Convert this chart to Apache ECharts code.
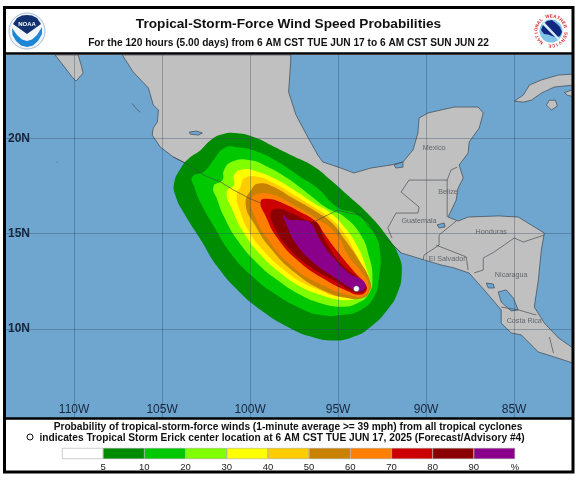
<!DOCTYPE html>
<html>
<head>
<meta charset="utf-8">
<title>Tropical-Storm-Force Wind Speed Probabilities</title>
<script src="https://cdn.jsdelivr.net/npm/echarts@6/dist/echarts.min.js"></script>
<style>
html,body{margin:0;padding:0;background:#fff}
#chart{width:576px;height:480px}
</style>
</head>
<body>
<div id="chart"></div>
<script>
/* all geography in [lon, lat], west negative */
var lonTicks = [-110, -105, -100, -95, -90, -85];
var latTicks = [10, 15, 20];

/* wind probability contours */
var contour5 = [[-104.32,17.64],[-103.94,18.43],[-103.47,18.95],[-102.80,19.39],[-102.23,19.91],[-101.57,20.21],[-100.72,20.26],[-99.77,20.05],[-98.64,19.56],[-97.50,19.04],[-96.36,18.51],[-95.42,17.81],[-94.47,17.03],[-93.33,16.07],[-92.20,14.84],[-91.53,13.79],[-91.38,12.92],[-91.63,11.87],[-92.20,11.00],[-93.14,10.12],[-94.09,9.60],[-95.23,9.39],[-96.55,9.60],[-97.88,10.12],[-99.39,11.00],[-100.72,12.05],[-101.86,13.27],[-102.80,14.67],[-103.75,16.07],[-104.22,16.94]];
var contour10 = [[-103.28,17.99],[-102.61,18.25],[-102.14,18.78],[-101.48,19.48],[-100.72,19.53],[-99.58,19.30],[-98.45,18.78],[-97.31,18.08],[-96.17,17.38],[-95.04,16.38],[-93.90,15.98],[-92.95,15.02],[-92.61,13.97],[-92.67,12.74],[-92.95,11.70],[-93.71,11.00],[-94.85,10.73],[-95.98,10.73],[-97.12,11.08],[-98.64,11.87],[-99.96,12.83],[-101.10,13.97],[-102.05,15.37],[-102.80,16.59],[-103.18,17.47]];
var contour20 = [[-102.08,17.47],[-101.57,17.81],[-101.48,18.34],[-101.00,18.78],[-100.06,18.86],[-99.02,18.51],[-97.88,17.90],[-96.74,17.12],[-95.61,16.33],[-94.66,15.89],[-93.71,14.93],[-93.24,13.79],[-93.05,12.74],[-93.24,11.87],[-93.90,11.35],[-94.85,11.17],[-95.98,11.35],[-97.12,11.78],[-98.45,12.57],[-99.58,13.44],[-100.72,14.67],[-101.48,15.89],[-101.86,16.77]];
var contour30 = [[-101.33,17.20],[-100.91,17.55],[-100.91,18.08],[-100.44,18.37],[-99.58,18.25],[-98.64,17.90],[-97.50,17.29],[-96.36,16.59],[-95.42,16.07],[-94.66,15.37],[-93.90,14.32],[-93.43,13.27],[-93.24,12.48],[-93.43,11.87],[-93.90,11.61],[-94.85,11.52],[-95.98,11.78],[-97.12,12.22],[-98.26,12.92],[-99.39,13.88],[-100.34,15.02],[-101.00,16.24]];
var contour40 = [[-100.76,17.03],[-100.53,17.47],[-100.34,17.90],[-99.58,17.99],[-98.64,17.64],[-97.50,17.03],[-96.36,16.38],[-95.42,15.80],[-94.66,15.02],[-94.00,13.97],[-93.52,13.09],[-93.30,12.40],[-93.52,11.91],[-94.09,11.73],[-95.04,11.70],[-95.98,12.01],[-97.12,12.48],[-98.07,13.09],[-99.20,14.06],[-100.06,15.10],[-100.53,16.07]];
var contour50 = [[-100.25,16.53],[-99.87,17.40],[-99.49,17.63],[-98.74,17.49],[-97.60,16.88],[-96.28,16.18],[-95.34,15.56],[-94.68,14.77],[-93.83,13.63],[-93.17,12.49],[-93.26,11.88],[-93.64,11.61],[-94.40,11.61],[-95.72,11.96],[-97.42,12.93],[-98.92,14.33],[-99.68,15.39]];
var contour60 = [[-99.96,16.70],[-99.64,17.05],[-98.74,17.05],[-97.60,16.53],[-96.28,15.82],[-95.15,15.04],[-94.40,13.81],[-93.64,12.93],[-93.26,12.23],[-93.55,11.74],[-94.21,11.74],[-95.72,12.23],[-97.60,13.28],[-99.11,14.86],[-99.77,16.00]];
var contour70 = [[-99.40,16.70],[-98.92,16.82],[-98.17,16.61],[-97.23,16.18],[-96.28,15.65],[-95.81,15.04],[-94.96,13.98],[-94.02,12.93],[-93.42,12.32],[-93.42,11.96],[-93.83,11.79],[-94.40,11.96],[-95.72,12.58],[-97.23,13.54],[-98.45,14.77],[-99.11,15.91]];
var contour80 = [[-98.83,16.09],[-98.45,16.30],[-97.70,16.09],[-96.66,15.65],[-96.19,15.56],[-95.72,14.60],[-94.77,13.37],[-93.74,12.58],[-93.45,12.23],[-93.55,11.96],[-94.02,11.91],[-95.15,12.49],[-96.75,13.37],[-97.98,14.42],[-98.64,15.39]];
var contour90 = [[-98.11,16.00],[-97.79,15.74],[-97.23,15.70],[-96.57,15.56],[-96.09,14.77],[-95.34,13.81],[-94.40,12.93],[-93.55,12.49],[-93.49,12.14],[-93.74,11.96],[-94.11,12.05],[-95.15,12.67],[-96.47,13.54],[-97.42,14.51],[-97.89,15.39]];
var stormCenter = [-93.96, 12.11];

/* land */
var mainland = [[-107.26,24.37],[-106.64,23.48],[-105.78,22.64],[-105.50,21.75],[-105.21,21.48],[-105.27,20.86],[-105.50,20.54],[-105.56,20.17],[-105.10,19.54],[-104.36,19.02],[-103.68,18.70],[-102.65,18.08],[-101.68,17.71],[-100.94,17.29],[-99.97,16.82],[-99.40,16.61],[-97.98,16.19],[-97.01,15.87],[-96.38,15.61],[-95.70,15.93],[-95.01,16.24],[-94.39,16.08],[-93.70,15.98],[-93.25,15.35],[-92.17,14.67],[-91.42,13.99],[-90.11,13.62],[-89.15,13.36],[-88.40,13.20],[-87.55,12.93],[-86.70,12.05],[-85.73,11.00],[-85.73,10.31],[-85.16,9.79],[-84.59,9.69],[-83.62,8.79],[-82.71,8.53],[-81.65,8.21],[-81.65,9.00],[-82.48,9.53],[-83.28,10.31],[-83.85,11.15],[-83.62,12.57],[-83.45,14.14],[-83.28,15.03],[-84.02,15.45],[-84.76,15.87],[-85.90,15.93],[-87.61,15.87],[-88.18,15.66],[-88.75,15.87],[-88.29,16.76],[-88.18,17.39],[-87.89,17.92],[-88.12,18.60],[-87.61,19.23],[-87.55,19.81],[-86.98,20.54],[-86.75,21.33],[-87.04,21.64],[-88.40,21.64],[-89.89,21.33],[-90.40,21.06],[-90.46,20.28],[-90.74,19.39],[-91.31,18.76],[-92.00,18.60],[-93.13,18.44],[-94.10,18.18],[-94.84,18.44],[-95.87,18.76],[-96.15,19.12],[-96.72,20.06],[-97.24,20.96],[-97.41,21.27],[-97.81,22.43],[-97.69,24.05],[-97.69,24.37]];
var baja = [[-111.08,24.37],[-110.63,23.84],[-110.11,23.21],[-109.89,23.00],[-109.49,23.42],[-109.60,23.84],[-109.77,24.37]];
var cuba = [[-81.65,23.37],[-82.48,23.32],[-83.45,23.06],[-84.13,22.79],[-84.47,22.27],[-84.99,21.95],[-84.47,21.90],[-84.02,22.00],[-83.45,22.37],[-82.71,22.69],[-81.65,22.79]];
var cubaEast = [[-82.14,22.40],[-81.65,22.55],[-81.65,22.20],[-81.95,22.25]];
var isleOfYouth = [[-83.16,21.75],[-82.99,22.00],[-82.65,22.00],[-82.54,21.69],[-82.88,21.48]];

/* lakes */
var lakeChapala = [[-103.45,20.33],[-103.05,20.38],[-102.71,20.28],[-102.94,20.17],[-103.40,20.22]];
var lakeNicaragua = [[-85.90,11.94],[-85.44,12.05],[-85.04,11.62],[-84.76,11.00],[-85.16,10.94],[-85.73,11.41]];
var lakeManagua = [[-86.58,12.41],[-86.18,12.36],[-86.12,12.15],[-86.46,12.15]];
var lakeIzabal = [[-89.37,15.46],[-88.97,15.56],[-88.92,15.35],[-89.26,15.30]];
var lagunaTerminos = [[-91.82,18.60],[-91.31,18.76],[-91.31,18.49],[-91.71,18.44]];

/* borders and small islands */
var borders = [
	[[-91.94,14.77],[-92.17,15.30],[-91.71,16.08],[-90.46,16.08],[-90.40,16.40],[-91.42,17.18],[-90.97,17.81],[-88.80,17.81],[-88.80,15.87]],
	[[-88.80,17.81],[-88.58,18.34],[-88.23,18.49]],
	[[-88.29,15.66],[-89.26,14.93],[-89.26,14.40],[-90.11,13.88],[-90.17,13.62]],
	[[-89.43,14.40],[-87.72,13.78],[-87.61,13.09]],
	[[-87.27,12.94],[-86.75,13.09],[-86.75,13.72],[-86.13,14.04],[-84.99,14.77],[-84.47,14.56],[-83.28,14.93]],
	[[-85.73,11.15],[-84.76,11.00],[-83.73,10.73]],
	[[-82.99,9.58],[-82.76,8.74]],
	[[-106.70,21.83],[-106.53,21.62],[-106.24,21.36]],
	[[-110.99,18.78],[-110.93,18.72]]
];

var countryNames = ['Mexico', 'Belize', 'Guatemala', 'Honduras', 'El Salvador', 'Nicaragua', 'Costa Rica'];
var countryLons = [-89.54, -88.75, -90.40, -86.30, -88.80, -85.16, -84.42];
var countryLats = [19.49, 17.18, 15.66, 15.09, 13.67, 12.83, 10.42];

/* color bar */
var legendColors = ['#ffffff', '#008c00', '#00c800', '#80ff00', '#ffff00', '#ffcc00', '#c98200', '#ff8000', '#cc0000', '#8b0000', '#8b008b'];
var legendLabels = ['5', '10', '20', '30', '40', '50', '60', '70', '80', '90', '%'];

var fontFamily = '"Liberation Sans", Arial, sans-serif';
var coastColor = '#3c4650';

// polygon in map coordinates, drawn once for the whole point list
function polySeries(points, fill, stroke, z, smooth) {
	return {
		type: 'custom',
		xAxisIndex: 0,
		yAxisIndex: 0,
		coordinateSystem: 'cartesian2d',
		clip: true,
		silent: true,
		z: z,
		data: [points[0]],
		renderItem: function(params, api) {
			var pts = [];
			for (var i = 0; i < points.length; i++) {
				pts.push(api.coord(points[i]));
			}
			return {
				type: 'polygon',
				shape: { points: pts, smooth: smooth || 0 },
				style: { fill: fill, stroke: stroke || null, lineWidth: stroke ? 0.7 : 0 }
			};
		}
	};
}

function lineSeries(points, color, width, z) {
	return {
		type: 'line',
		xAxisIndex: 0,
		yAxisIndex: 0,
		data: points,
		symbol: 'none',
		silent: true,
		z: z,
		lineStyle: { color: color, width: width }
	};
}

var series = [];
// land under everything
series.push(polySeries(mainland, '#c0c0c0', coastColor, 2));
series.push(polySeries(baja, '#c0c0c0', coastColor, 2));
series.push(polySeries(cuba, '#c0c0c0', coastColor, 2));
series.push(polySeries(cubaEast, '#c0c0c0', coastColor, 2));
series.push(polySeries(isleOfYouth, '#c0c0c0', coastColor, 2));
var lakes = [lakeChapala, lakeNicaragua, lakeManagua, lakeIzabal, lagunaTerminos];
for (var l = 0; l < lakes.length; l++) {
	series.push(polySeries(lakes[l], '#6fa6cf', coastColor, 3));
}
for (var b = 0; b < borders.length; b++) {
	series.push(lineSeries(borders[b], '#4a4f55', 0.7, 4));
}

// contours, outer first
var contours = [contour5, contour10, contour20, contour30, contour40, contour50, contour60, contour70, contour80, contour90];
for (var c = 0; c < contours.length; c++) {
	series.push(polySeries(contours[c], legendColors[c + 1], null, 5 + c * 0.1, 0.5));
}

// coast shows through the shading
series.push(lineSeries(mainland.slice(9, 16), coastColor, 0.6, 7));
series.push(lineSeries(mainland.slice(18, 26), coastColor, 0.6, 7));

var countryData = [];
for (var n = 0; n < countryNames.length; n++) {
	countryData.push({ value: [countryLons[n], countryLats[n]], name: countryNames[n] });
}
series.push({
	type: 'scatter',
	xAxisIndex: 0,
	yAxisIndex: 0,
	data: countryData,
	symbolSize: 0,
	silent: true,
	z: 8,
	label: {
		show: true,
		position: 'inside',
		formatter: '{b}',
		fontFamily: fontFamily,
		fontSize: 7.2,
		color: '#4a4f55'
	}
});

series.push({
	type: 'scatter',
	xAxisIndex: 0,
	yAxisIndex: 0,
	data: [stormCenter],
	symbolSize: 6,
	silent: true,
	z: 9,
	itemStyle: { color: '#ffffff', borderColor: '#222222', borderWidth: 0.5, opacity: 1 }
});

// color bar, one stacked cell per band
for (var k = 0; k < legendColors.length; k++) {
	series.push({
		type: 'bar',
		xAxisIndex: 1,
		yAxisIndex: 1,
		stack: 'bar',
		data: [1],
		barWidth: '100%',
		silent: true,
		itemStyle: { color: legendColors[k], borderColor: '#9a9a9a', borderWidth: 0.5 }
	});
}

function titleLine(text, top, size, x) {
	return {
		text: text,
		left: x,
		top: top,
		padding: 0,
		textAlign: 'center',
		textStyle: { fontFamily: fontFamily, fontSize: size, fontWeight: 'bold', color: '#111111' }
	};
}

// header logos and the frame are plain decoration
var graphics = [
	{ type: 'circle', z: 50, shape: { cx: 27, cy: 31, r: 18 }, style: { fill: '#f2f5f9', stroke: '#a9bcd4', lineWidth: 1 } },
	{ type: 'polygon', z: 51, shape: { points: [[13,24],[17,18],[22,15.5],[27,15],[32,15.5],[37,18],[41,24],[27,34]] }, style: { fill: '#10306f' } },
	{ type: 'polygon', z: 51, shape: { points: [[12,28],[17,35],[22,39.5],[27,41],[32,39.5],[37,35],[42,27],[42,34],[38,41],[33,45.5],[27,47],[21,45.5],[16,41],[12.5,35]] }, style: { fill: '#1f86d6' } },
	{ type: 'text', z: 52, style: { text: 'NOAA', x: 27, y: 24.5, fill: '#ffffff', font: 'bold 6px ' + fontFamily, textAlign: 'center', textVerticalAlign: 'middle' } },
	{ type: 'circle', z: 50, shape: { cx: 551, cy: 31, r: 18 }, style: { fill: '#ffffff' } },
	{ type: 'circle', z: 51, shape: { cx: 551, cy: 31, r: 11.5 }, style: { fill: '#7fc4e8' } },
	{ type: 'polygon', z: 52, shape: { points: [[541,30],[543,25],[547,21],[552,20],[557,24],[560,27],[562,32],[560,36],[556,37.5],[552,36],[548,34.5],[544,34]] }, style: { fill: '#10277f' } },
	{ type: 'polygon', z: 53, shape: { points: [[544,22],[560,39],[558,40],[542,24]] }, style: { fill: '#d8ecf6' } },
	{ type: 'rect', z: 60, shape: { x: 4.5, y: 7.5, width: 568.5, height: 464.5 }, style: { fill: null, stroke: '#000000', lineWidth: 3 } },
	{ type: 'line', z: 60, shape: { x1: 4, y1: 53.5, x2: 573, y2: 53.5 }, style: { stroke: '#000000', lineWidth: 2.5 } },
	{ type: 'line', z: 60, shape: { x1: 4, y1: 418.5, x2: 573, y2: 418.5 }, style: { stroke: '#000000', lineWidth: 2.5 } },
	{ type: 'circle', z: 60, shape: { cx: 30, cy: 437, r: 3 }, style: { fill: '#ffffff', stroke: '#111111', lineWidth: 1 } }
];
// agency name runs round the NWS seal
var sealText = 'NATIONAL WEATHER SERVICE';
for (var s = 0; s < sealText.length; s++) {
	var ang = -Math.PI * 1.28 + s * (Math.PI * 2 / 25.5);
	graphics.push({
		type: 'text',
		z: 54,
		x: 551 + Math.cos(ang) * 14.8,
		y: 31 + Math.sin(ang) * 14.8,
		rotation: -(ang + Math.PI / 2),
		style: { text: sealText.charAt(s), fill: '#d81e1e', font: 'bold 4.5px ' + fontFamily, textAlign: 'center', textVerticalAlign: 'middle' }
	});
}

var option = {
	animation: false,
	backgroundColor: '#ffffff',
	title: [
		titleLine('Tropical-Storm-Force Wind Speed Probabilities', 17, 13.65, 288.5),
		titleLine('For the 120 hours (5.00 days) from 6 AM CST TUE JUN 17 to 6 AM CST SUN JUN 22', 38, 10.17, 288.5),
		titleLine('Probability of tropical-storm-force winds (1-minute average >= 39 mph) from all tropical cyclones', 422, 10.2, 288),
		titleLine('indicates Tropical Storm Erick center location at 6 AM CST TUE JUN 17, 2025 (Forecast/Advisory #4)', 433, 10.2, 282)
	],
	grid: [
		{ left: 6, right: 3, top: 55, height: 363, show: true, backgroundColor: '#6fa6cf', borderWidth: 0 },
		{ left: 62, top: 448, width: 453, height: 11 }
	],
	xAxis: [
		{
			type: 'value',
			gridIndex: 0,
			min: -113.87,
			max: -81.65,
			z: 20,
			axisLine: { show: false },
			axisTick: { show: false, customValues: lonTicks },
			splitLine: { show: true, lineStyle: { color: 'rgba(40,60,90,0.32)', width: 1 } },
			axisLabel: {
				inside: true,
				margin: 2,
				customValues: lonTicks,
				formatter: function(v) { return (-v) + 'W'; },
				fontFamily: fontFamily,
				fontSize: 12,
				color: '#16263c'
			}
		},
		{
			type: 'value',
			gridIndex: 1,
			min: 0,
			max: 11,
			axisLine: { show: false },
			axisTick: { show: false, customValues: [1, 2, 3, 4, 5, 6, 7, 8, 9, 10, 11] },
			splitLine: { show: false },
			axisLabel: {
				margin: 3,
				customValues: [1, 2, 3, 4, 5, 6, 7, 8, 9, 10, 11],
				formatter: function(v) { return legendLabels[v - 1]; },
				fontFamily: fontFamily,
				fontSize: 9.5,
				color: '#222222'
			}
		}
	],
	yAxis: [
		{
			type: 'value',
			gridIndex: 0,
			min: 5.33,
			max: 24.37,
			z: 20,
			axisLine: { show: false },
			axisTick: { show: false, customValues: latTicks },
			splitLine: { show: true, lineStyle: { color: 'rgba(40,60,90,0.32)', width: 1 } },
			axisLabel: {
				inside: true,
				margin: 2,
				customValues: latTicks,
				formatter: function(v) { return v + 'N'; },
				fontFamily: fontFamily,
				fontSize: 12,
				fontWeight: 'bold',
				color: '#16263c'
			}
		},
		{
			type: 'category',
			gridIndex: 1,
			data: ['bar'],
			axisLine: { show: false },
			axisTick: { show: false },
			axisLabel: { show: false }
		}
	],
	graphic: graphics,
	series: series
};

var myChart = echarts.init(document.getElementById('chart'), null, { renderer: 'canvas' });
myChart.setOption(option);
</script>
</body>
</html>
